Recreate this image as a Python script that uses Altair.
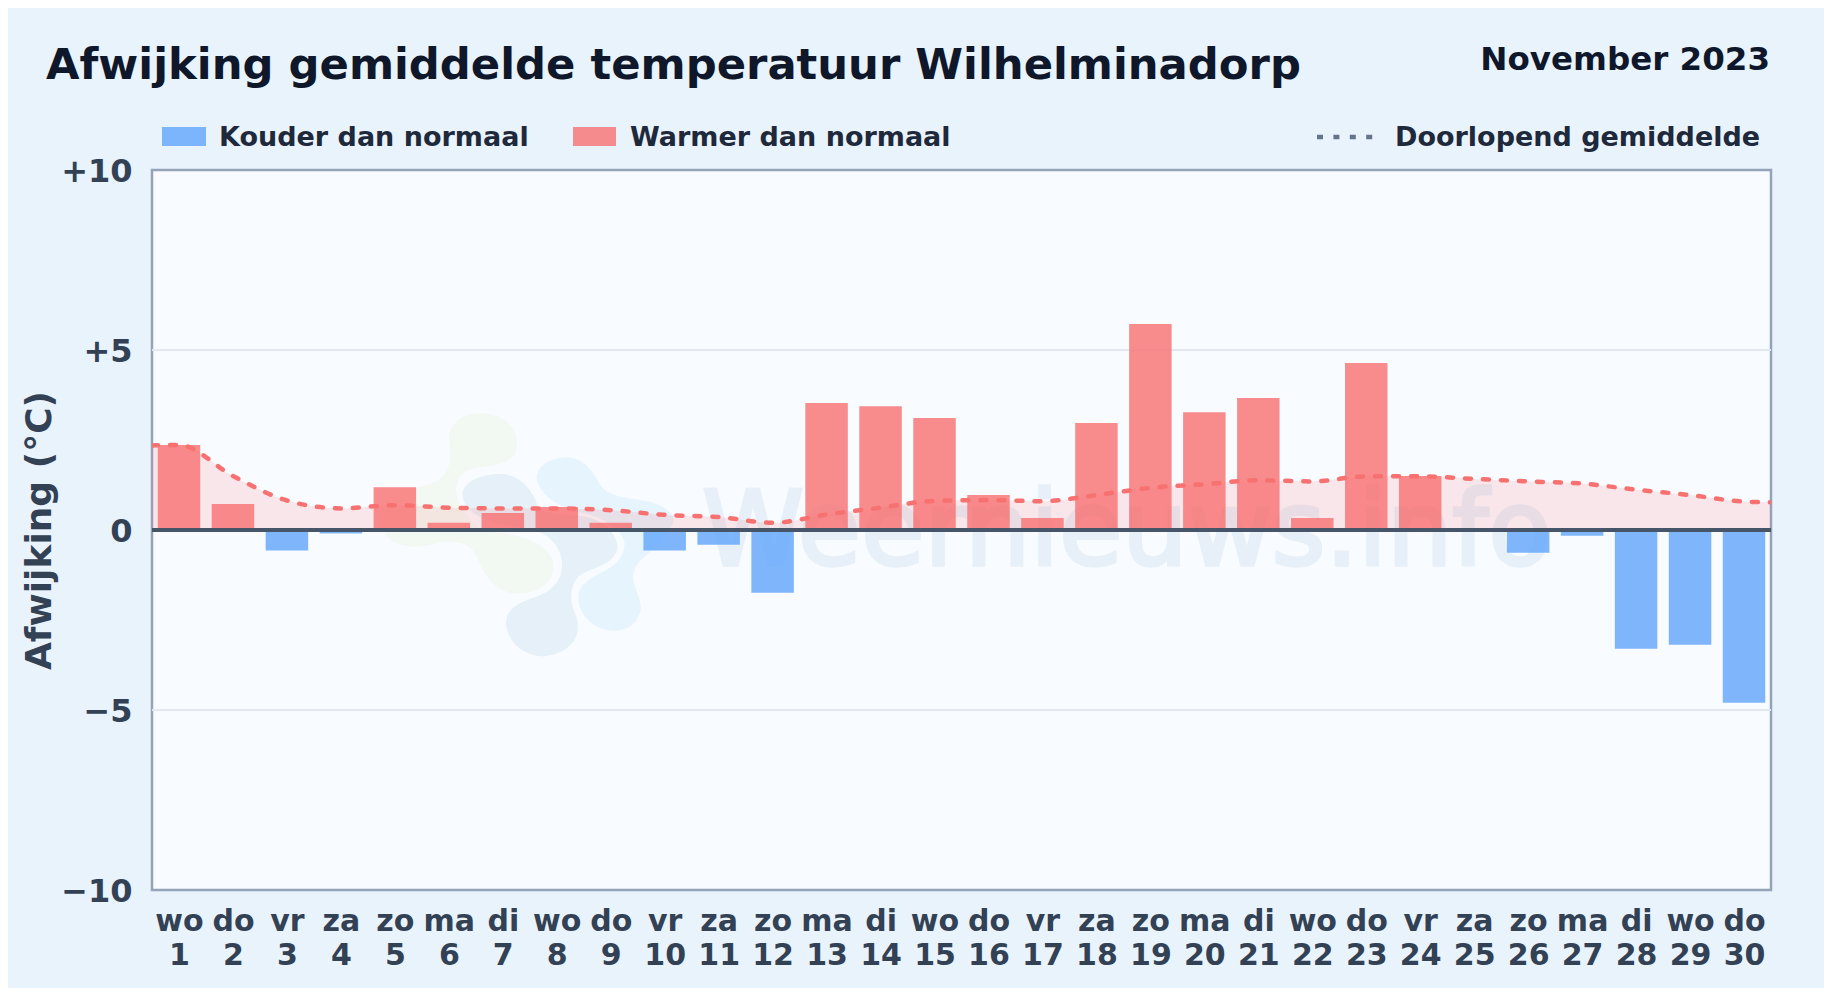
import altair as alt
import pandas as pd

TITLE = "Afwijking gemiddelde temperatuur Wilhelminadorp"
PERIOD = "November 2023"
WATERMARK = "Weernieuws.info"
COLD_LABEL = "Kouder dan normaal"
WARM_LABEL = "Warmer dan normaal"
MEAN_LABEL = "Doorlopend gemiddelde"
Y_TITLE = "Afwijking (°C)"

days = list(range(1, 31))
weekdays = ["wo", "do", "vr", "za", "zo", "ma", "di"] * 4 + ["wo", "do"]
anomaly = [2.36, 0.72, -0.57, -0.10, 1.19, 0.20, 0.47, 0.64, 0.20, -0.57,
           -0.41, -1.74, 3.53, 3.44, 3.11, 0.97, 0.33, 2.97, 5.72, 3.27,
           3.67, 0.33, 4.64, 1.50, 0.00, -0.63, -0.16, -3.30, -3.19, -4.80]
mean_x = [0.5] + days + [30.5]
running_mean = [2.35, 2.36, 1.50, 0.82, 0.60, 0.69, 0.62, 0.60, 0.60, 0.55, 0.42,
                0.36, 0.20, 0.43, 0.62, 0.81, 0.83, 0.80, 0.97, 1.17, 1.27,
                1.38, 1.35, 1.49, 1.49, 1.42, 1.35, 1.29, 1.12, 0.97, 0.79, 0.77]
y_ticks = [-10, -5, 0, 5, 10]
grid_values = [-5, 5]

FONT = "DejaVu Sans"
PAGE = "#e9f3fc"
PLOT = "#f8fbff"
RED = "#f87171"
BLUE = "#60a5fa"
PLOT_X, PLOT_Y = 152, 170
W, H = 1619, 720

# logo outlines, in the logo's own drawing units (960 x 810 box)
logo_green = [(330,40),(400,40,445,80,440,140),(438,190,380,195,310,205),(270,215,250,245,262,290),
              (275,335,310,380,350,395),(450,400,550,430,550,500),(550,560,480,585,430,580),
              (370,570,340,520,320,470),(300,425,250,415,180,435),(110,450,50,430,40,385),
              (30,330,100,270,170,255),(225,240,250,200,238,130),(230,80,270,40,330,40)]
logo_slate = [(390,222),(450,222,490,270,505,325),(530,345,600,345,650,350),(710,365,745,410,742,445),
              (735,490,680,500,640,520),(600,540,595,600,615,640),(640,700,610,755,530,768),
              (460,775,410,720,408,670),(408,625,450,605,500,590),(560,570,590,520,570,460),
              (555,410,500,385,440,380),(370,375,300,350,280,300),(265,255,320,222,390,222)]
logo_blue = [(590,172),(640,172,670,215,690,255),(720,295,790,295,840,305),(890,320,930,350,900,385),
             (880,440,800,470,790,520),(785,560,815,590,812,630),(800,680,760,695,725,692),
             (670,690,625,640,625,595),(625,550,670,530,710,510),(750,490,770,450,762,420),
             (745,375,680,345,620,335),(570,320,510,290,500,235),(500,200,540,172,590,172)]


def logo_path(pts):
    def n(v, c):
        return f"{(v - c) / 480:.4f}"
    out = [f"M{n(pts[0][0], 480)},{n(pts[0][1], 405)}"]
    for p in pts[1:]:
        out.append("C" + " ".join(n(p[i], 480 if i % 2 == 0 else 405) for i in range(6)))
    return "".join(out) + "Z"


def logo(pts, color):
    return (alt.Chart(pd.DataFrame({"a": [0]}))
            .mark_point(shape=logo_path(pts), size=320 ** 2, filled=True, fill=color,
                        opacity=1, strokeWidth=0)
            .encode(x=alt.value(530 - PLOT_X), y=alt.value(535 - PLOT_Y)))


def text(label, px, py, size, color, align="left", weight="bold", **kw):
    return (alt.Chart(pd.DataFrame({"t": [label]}))
            .mark_text(align=align, baseline="alphabetic", font=FONT, fontSize=size,
                       fontWeight=weight, color=color, **kw)
            .encode(x=alt.value(px - PLOT_X), y=alt.value(py - PLOT_Y), text="t:N"))


def swatch(x0, x1, color):
    return (alt.Chart(pd.DataFrame({"a": [0]}))
            .mark_rect(color=color, opacity=0.8)
            .encode(x=alt.value(x0 - PLOT_X), x2=alt.value(x1 - PLOT_X),
                    y=alt.value(127 - PLOT_Y), y2=alt.value(146 - PLOT_Y)))


label_array = "[" + ",".join(f"'{d}'" for d in weekdays) + "]"
x_scale = alt.Scale(domain=[0.5, 30.5], nice=False, zero=False, padding=0)
y_scale = alt.Scale(domain=[-10, 10], nice=False, padding=0)

bars_df = pd.DataFrame({"day": days, "value": anomaly, "zero": 0.0})
bars_df["kind"] = ["warm" if v >= 0 else "cold" for v in anomaly]
bars_df = bars_df[bars_df["value"] != 0]
mean_df = pd.DataFrame({"day": mean_x, "value": running_mean, "zero": 0.0})

x_axis = alt.Axis(values=days, grid=False, domain=False, ticks=False, title=None, labelAngle=0,
                  labelExpr=f"[{label_array}[datum.value-1], ''+datum.value]",
                  labelFont=FONT, labelFontSize=30, labelFontWeight="bold", labelColor="#334155",
                  labelPadding=16, labelLineHeight=34, labelBaseline="top", labelOverlap=False,
                  labelFlush=False)
y_axis = alt.Axis(values=y_ticks, grid=False, domain=False, ticks=False,
                  labelExpr="datum.value > 0 ? '+' + datum.value : (datum.value < 0 ? '\u2212' + abs(datum.value) : '0')",
                  labelFont=FONT, labelFontSize=32, labelFontWeight="bold", labelColor="#334155",
                  labelPadding=20, labelOffset=1, labelOverlap=False, labelFlush=False,
                  title=Y_TITLE, titleFont=FONT, titleFontSize=36, titleFontWeight="bold",
                  titleColor="#334155", titleX=50 - PLOT_X, titleY=360, titleAngle=270,
                  titleAnchor="middle", titleAlign="center", titleBaseline="alphabetic")

X = alt.X("day:Q", scale=x_scale, axis=x_axis)
Y = alt.Y("value:Q", scale=y_scale, axis=y_axis)

grid = alt.Chart(pd.DataFrame({"value": grid_values})).mark_rule(color="#e2e8f0", strokeWidth=2).encode(y=Y)
area = alt.Chart(mean_df).mark_area(color=RED, opacity=0.15, interpolate="monotone").encode(x=X, y=Y, y2="zero:Q")
bars = alt.Chart(bars_df).mark_bar(size=42.5, orient="vertical", opacity=0.8).encode(
    x=X, y=Y, y2="zero:Q",
    color=alt.Color("kind:N", scale=alt.Scale(domain=["cold", "warm"], range=[BLUE, RED]), legend=None),
)
zero_rule = alt.Chart(pd.DataFrame({"value": [0]})).mark_rule(color="#475569", strokeWidth=4).encode(y=Y)
line = alt.Chart(mean_df).mark_line(color=RED, strokeWidth=4.5, strokeDash=[6, 12], strokeCap="round",
                                    interpolate="monotone", clip=True).encode(x=X, y=Y)
watermark = text(WATERMARK, 702, 565, 103, "#e7f0f9", weight="normal", stroke="#e7f0f9", strokeWidth=3.5)
mean_key = (alt.Chart(pd.DataFrame({"a": [0]}))
            .mark_rule(color="#64748b", strokeWidth=4.5, strokeDash=[6, 10.4])
            .encode(x=alt.value(1317 - PLOT_X), x2=alt.value(1373 - PLOT_X), y=alt.value(137 - PLOT_Y)))

chart = alt.layer(
    grid,
    logo(logo_green, "#f2f9f2"), logo(logo_slate, "#e6f0f8"), logo(logo_blue, "#e6f4fd"),
    watermark, area, bars, zero_rule, line,
    text(TITLE, 46, 79, 43.3, "#0f172a"),
    text(PERIOD, 1770, 70, 32.5, "#0f172a", align="right"),
    swatch(162, 206, BLUE), text(COLD_LABEL, 219, 146, 27, "#1e293b"),
    swatch(573, 616, RED), text(WARM_LABEL, 630, 146, 27, "#1e293b"),
    mean_key, text(MEAN_LABEL, 1395, 146, 27, "#1e293b"),
).resolve_scale(x="shared", y="shared").properties(
    width=W, height=H,
    background=PAGE,
    padding={"left": PLOT_X - 8, "top": PLOT_Y - 8, "right": 1816 - (PLOT_X - 8) - W, "bottom": 980 - (PLOT_Y - 8) - H},
    autosize=alt.AutoSizeParams(type="none"),
).configure_view(fill=PLOT, stroke="#94a3b8", strokeWidth=2.5)

chart.save("out.html", embed_options={"renderer": "svg", "actions": False})
